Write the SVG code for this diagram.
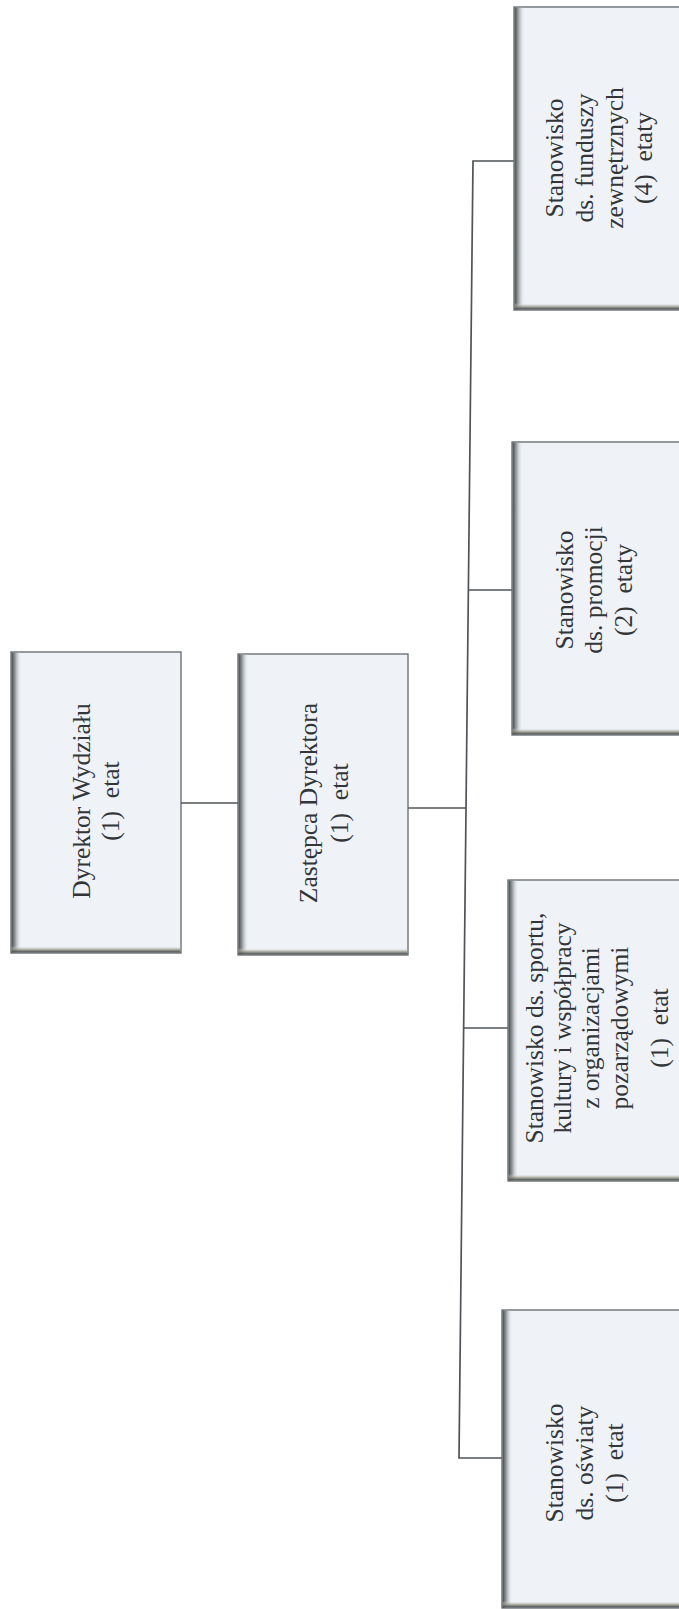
<svg xmlns="http://www.w3.org/2000/svg" width="679" height="1609" viewBox="0 0 679 1609">
<style>
.box{fill:#eff3f8;stroke:#62676b;stroke-width:1.3}
.lbl{font-family:"Liberation Serif","Times New Roman",serif;font-size:25.5px;fill:#333638;text-anchor:middle;white-space:pre}
.con{fill:none;stroke:#4f5458;stroke-width:1.7}
</style>
<defs>
<linearGradient id="gl" x1="0" y1="0" x2="1" y2="0">
<stop offset="0" stop-color="#43484b"/>
<stop offset="0.35" stop-color="#7c8184" stop-opacity="0.8"/>
<stop offset="1" stop-color="#eef2f7" stop-opacity="0"/>
</linearGradient>
<linearGradient id="gb" x1="0" y1="0" x2="0" y2="1">
<stop offset="0" stop-color="#eef2f7" stop-opacity="0"/>
<stop offset="0.5" stop-color="#9c9b8a" stop-opacity="0.7"/>
<stop offset="1" stop-color="#3d4247"/>
</linearGradient>
</defs>
<rect width="679" height="1609" fill="#ffffff"/>
<g id="connectors">
<path class="con" d="M181,803 H238"/>
<path class="con" d="M408,808 H466"/>
<path class="con" d="M514,161 H473 L459,1458 H502"/>
<path class="con" d="M512,590 H468.4"/>
<path class="con" d="M508,1028 H463.6"/>
</g>
<g id="n1">
<rect class="box" x="11" y="652" width="170" height="301"/>
<rect x="11.6" y="652.6" width="10" height="299.8" fill="url(#gl)"/>
<rect x="11.6" y="946" width="168.8" height="6.4" fill="url(#gb)"/>
<g transform="translate(96,801) rotate(-90)">
<text class="lbl" x="0" y="-6">Dyrektor Wydziału</text>
<text class="lbl" x="0" y="23" xml:space="preserve">(1)  etat</text>
</g>
</g>
<g id="n2">
<rect class="box" x="238" y="654" width="170" height="301"/>
<rect x="238.6" y="654.6" width="10" height="299.8" fill="url(#gl)"/>
<rect x="238.6" y="948" width="168.8" height="6.4" fill="url(#gb)"/>
<g transform="translate(323,803) rotate(-90)">
<text class="lbl" x="0" y="-6">Zastępca Dyrektora</text>
<text class="lbl" x="0" y="25" xml:space="preserve">(1)  etat</text>
</g>
</g>
<g id="n3">
<rect class="box" x="514" y="7" width="170" height="303"/>
<rect x="514.6" y="7.6" width="10" height="301.8" fill="url(#gl)"/>
<rect x="514.6" y="303" width="168.8" height="6.4" fill="url(#gb)"/>
<g transform="translate(0,158) rotate(-90)">
<text class="lbl" x="0" y="563">Stanowisko</text>
<text class="lbl" x="0" y="593">ds. funduszy</text>
<text class="lbl" x="0" y="623">zewnętrznych</text>
<text class="lbl" x="0" y="652" xml:space="preserve">(4)  etaty</text>
</g>
</g>
<g id="n4">
<rect class="box" x="512" y="442" width="172" height="293"/>
<rect x="512.6" y="442.6" width="10" height="291.8" fill="url(#gl)"/>
<rect x="512.6" y="728" width="170.8" height="6.4" fill="url(#gb)"/>
<g transform="translate(0,590) rotate(-90)">
<text class="lbl" x="0" y="573">Stanowisko</text>
<text class="lbl" x="0" y="602">ds. promocji</text>
<text class="lbl" x="0" y="632" xml:space="preserve">(2)  etaty</text>
</g>
</g>
<g id="n5">
<rect class="box" x="508" y="880" width="176" height="301"/>
<rect x="508.6" y="880.6" width="10" height="299.8" fill="url(#gl)"/>
<rect x="508.6" y="1174" width="174.8" height="6.4" fill="url(#gb)"/>
<g transform="translate(0,1028) rotate(-90)">
<text class="lbl" x="0" y="543">Stanowisko ds. sportu,</text>
<text class="lbl" x="0" y="571">kultury i współpracy</text>
<text class="lbl" x="0" y="599">z organizacjami</text>
<text class="lbl" x="0" y="628">pozarządowymi</text>
<text class="lbl" x="0" y="668" xml:space="preserve">(1)  etat</text>
</g>
</g>
<g id="n6">
<rect class="box" x="502" y="1310" width="182" height="298"/>
<rect x="502.6" y="1310.6" width="10" height="296.8" fill="url(#gl)"/>
<rect x="502.6" y="1601" width="180.8" height="6.4" fill="url(#gb)"/>
<g transform="translate(0,1463) rotate(-90)">
<text class="lbl" x="0" y="563">Stanowisko</text>
<text class="lbl" x="0" y="593">ds. oświaty</text>
<text class="lbl" x="0" y="623" xml:space="preserve">(1)  etat</text>
</g>
</g>
</svg>
